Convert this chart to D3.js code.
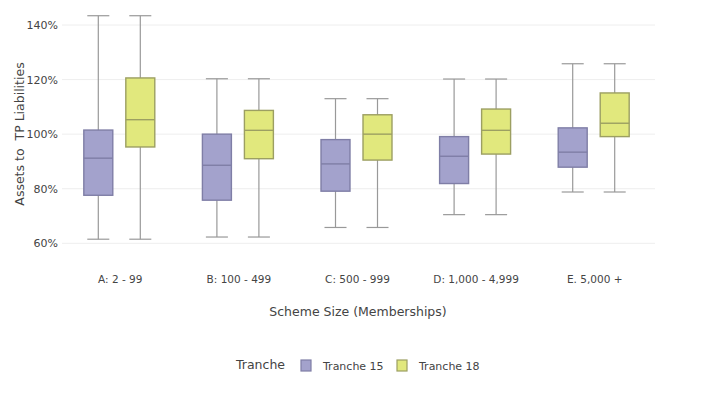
<!DOCTYPE html>
<html>
<head>
<meta charset="utf-8">
<script src="https://cdn.jsdelivr.net/npm/d3@7"></script>
<style>
  body { margin: 0; background: #fff; }
  text { font-family: "DejaVu Sans", Verdana, sans-serif; fill: #444; }
</style>
</head>
<body>
<div id="chart"></div>
<script>
(function () {

  const categories = ['A: 2 - 99', 'B: 100 - 499', 'C: 500 - 999', 'D: 1,000 - 4,999', 'E. 5,000 +']
  const tranches = ['Tranche 15', 'Tranche 18']

  // [lower whisker, q1, median, q3, upper whisker] in %
  const tranche15 = [
    [61.5, 77.6, 91.2, 101.5, 143.4],
    [62.3, 75.8, 88.6, 100.0, 120.3],
    [65.8, 79.1, 89.1, 98.0, 113.0],
    [70.5, 81.9, 91.9, 99.1, 120.2],
    [78.8, 87.9, 93.4, 102.3, 125.8]
  ]
  const tranche18 = [
    [61.5, 95.3, 105.3, 120.6, 143.4],
    [62.3, 91.0, 101.4, 108.7, 120.3],
    [65.8, 90.5, 100.0, 107.1, 113.0],
    [70.5, 92.7, 101.4, 109.2, 120.2],
    [78.8, 99.1, 104.0, 115.1, 125.8]
  ]
  const yTicks = [60, 80, 100, 120, 140]

  const fills = ['#a3a2cc', '#e1e87d']
  const strokes = ['#7f7ea6', '#9c9f62']

  const width = 720, height = 395
  const svg = d3.select('#chart').append('svg')
    .attr('width', width)
    .attr('height', height)

  const xPositionScale = d3.scaleBand()
    .domain(categories)
    .range([62, 655])

  // box groups inside each category
  const offsetScale = d3.scaleBand()
    .domain(tranches)
    .range([-2, xPositionScale.bandwidth() - 2])
    .paddingInner(0.31)
    .paddingOuter(0.567)

  const yPositionScale = d3.scaleLinear()
    .domain([60, 140])
    .range([243.3, 25])

  // gridlines + y labels
  svg.append('g')
    .selectAll('line')
    .data(yTicks)
    .join('line')
    .attr('x1', 62)
    .attr('x2', 655)
    .attr('y1', d => yPositionScale(d))
    .attr('y2', d => yPositionScale(d))
    .attr('stroke', '#eeeeee')

  svg.append('g')
    .selectAll('text')
    .data(yTicks)
    .join('text')
    .attr('x', 58)
    .attr('y', d => yPositionScale(d) + 4)
    .attr('text-anchor', 'end')
    .attr('font-size', 11)
    .text(d => d + '%')

  svg.append('g')
    .selectAll('text')
    .data(categories)
    .join('text')
    .attr('x', d => xPositionScale(d) + xPositionScale.bandwidth() / 2 - 1)
    .attr('y', 283)
    .attr('text-anchor', 'middle')
    .attr('font-size', 10.5)
    .text(d => d)

  const series = [tranche15, tranche18]
  const boxW = offsetScale.bandwidth()

  series.forEach((values, i) => {
    const g = svg.append('g')
    const groups = g.selectAll('g')
      .data(values.map((v, j) => ({ cat: categories[j], v: v })))
      .join('g')
      .attr('transform', d => 'translate(' + (xPositionScale(d.cat) + offsetScale(tranches[i])) + ',0)')

    // whiskers
    groups.append('line')
      .attr('x1', boxW / 2).attr('x2', boxW / 2)
      .attr('y1', d => yPositionScale(d.v[0]))
      .attr('y2', d => yPositionScale(d.v[4]))
      .attr('stroke', '#999')
      .attr('stroke-width', 1.2)
    groups.selectAll('.cap')
      .data(d => [d.v[0], d.v[4]])
      .join('line')
      .attr('class', 'cap')
      .attr('x1', boxW * 0.12).attr('x2', boxW * 0.88)
      .attr('y1', d => yPositionScale(d))
      .attr('y2', d => yPositionScale(d))
      .attr('stroke', '#999')
      .attr('stroke-width', 1.2)

    groups.append('rect')
      .attr('x', 0)
      .attr('width', boxW)
      .attr('y', d => yPositionScale(d.v[3]))
      .attr('height', d => yPositionScale(d.v[1]) - yPositionScale(d.v[3]))
      .attr('fill', fills[i])
      .attr('stroke', strokes[i])
      .attr('stroke-width', 1.4)

    groups.append('line')
      .attr('x1', 0).attr('x2', boxW)
      .attr('y1', d => yPositionScale(d.v[2]))
      .attr('y2', d => yPositionScale(d.v[2]))
      .attr('stroke', strokes[i])
      .attr('stroke-width', 1.4)
  })

  // axis titles
  svg.append('text')
    .attr('x', 358)
    .attr('y', 316)
    .attr('text-anchor', 'middle')
    .attr('font-size', 12.5)
    .text('Scheme Size (Memberships)')

  svg.append('text')
    .attr('transform', 'translate(24,134) rotate(-90)')
    .attr('text-anchor', 'middle')
    .attr('font-size', 12.5)
    .style('white-space', 'pre')
    .text('Assets to  TP Liabilities')

  // legend
  const legend = svg.append('g')
  legend.append('text')
    .attr('x', 236)
    .attr('y', 369)
    .attr('font-size', 12.5)
    .text('Tranche')

  const legendX = [301, 397]
  tranches.forEach((t, i) => {
    legend.append('rect')
      .attr('x', legendX[i])
      .attr('y', 360)
      .attr('width', 10)
      .attr('height', 11)
      .attr('fill', fills[i])
      .attr('stroke', strokes[i])
      .attr('stroke-width', 1.2)
    legend.append('text')
      .attr('x', legendX[i] + 22)
      .attr('y', 370)
      .attr('font-size', 11)
      .text(t)
  })

})();
</script>
</body>
</html>
